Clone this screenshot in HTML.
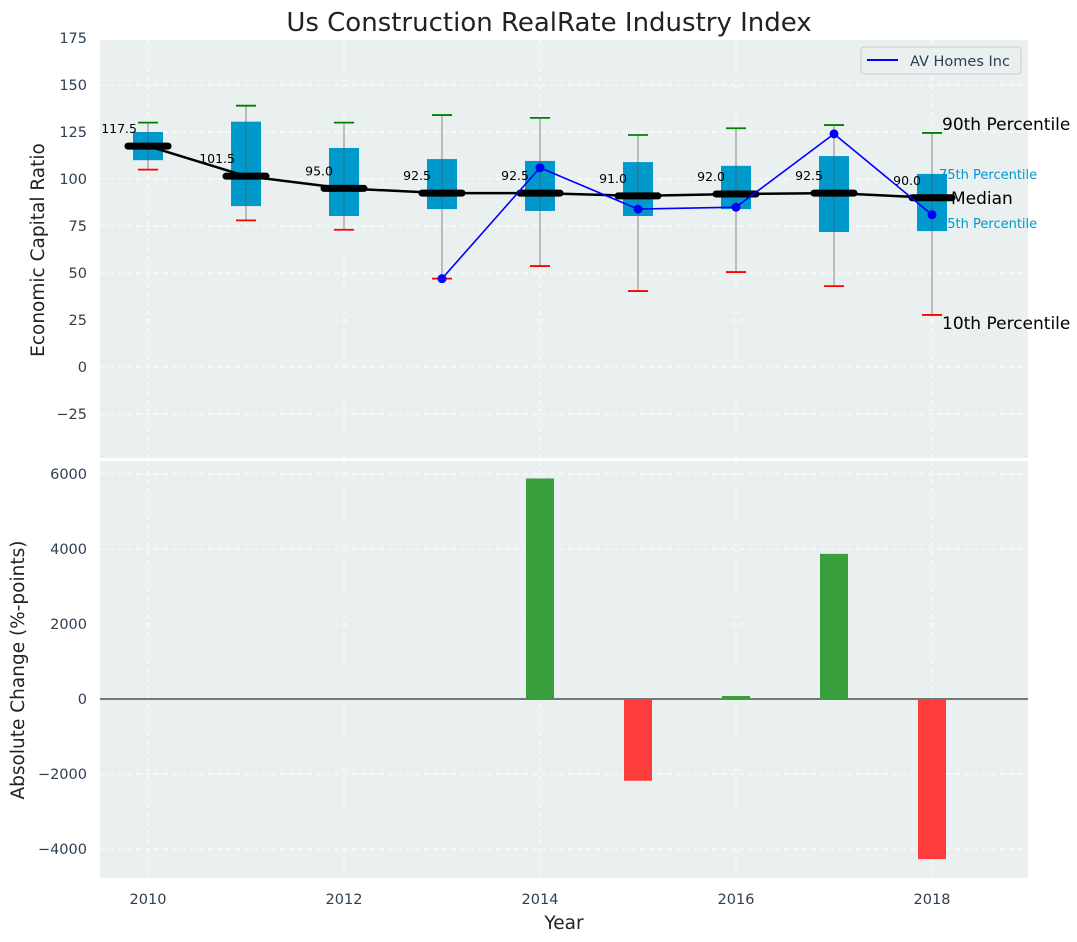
<!DOCTYPE html>
<html><head><meta charset="utf-8"><style>
body{margin:0;background:#fff;}
svg{display:block;font-family:"DejaVu Sans","Liberation Sans",sans-serif;}
</style></head><body>
<svg id="chart" width="1077" height="942"></svg>
<script>
const years=[2010,2011,2012,2013,2014,2015,2016,2017,2018];
const p10=[105,78,73,47,53.7,40.4,50.5,43,27.7];
const p25=[110,85.6,80.3,84,83,80.3,84,71.8,72.3];
const med=[117.5,101.5,95,92.5,92.5,91,92,92.5,90];
const p75=[125,130.5,116.5,110.6,109.6,109,107,112.2,102.7];
const p90=[130,139,130,134,132.5,123.4,127,128.7,124.5];
const avYears=[2013,2014,2015,2016,2017,2018];
const avVals=[47,106,84,85,124,81];
const chgYears=[2010,2011,2012,2013,2014,2015,2016,2017,2018];
const chgVals=[0,0,0,0,5880,-2180,80,3870,-4270];
const topTicks=[-25,0,25,50,75,100,125,150,175];
const botTicks=[-4000,-2000,0,2000,4000,6000];
const xTicks=[2010,2012,2014,2016,2018];

const NS="http://www.w3.org/2000/svg";
const svg=document.getElementById('chart');
function mk(tag,attrs,parent,text){const e=document.createElementNS(NS,tag);for(const k in attrs)e.setAttribute(k,attrs[k]);if(text!==undefined)e.textContent=text;(parent||svg).appendChild(e);return e;}
const L=100,R=1028,T1=40,B1=458,T2=461,B2=878;
const x=v=>148+(v-2010)*98;
const y1=v=>367-1.88*v;
const y2=v=>699-0.0375*v;
const tc="#2e3f51";
const TF=14.5;

let e;
e=mk('rect',{x:L,y:T1,width:R-L,height:B1-T1,fill:'#eaeff0'});

e=mk('rect',{x:L,y:T2,width:R-L,height:B2-T2,fill:'#eaeff0'});

topTicks.forEach(t=>{mk('line',{x1:L,x2:R,y1:y1(t),y2:y1(t),stroke:'#fff','stroke-dasharray':'5,4','stroke-width':1});
 e=mk('text',{x:L-13,y:y1(t)+5,'text-anchor':'end','font-size':TF,fill:tc},null,t<0?'\u2212'+(-t):t);
 });
botTicks.forEach(t=>{mk('line',{x1:L,x2:R,y1:y2(t),y2:y2(t),stroke:'#fff','stroke-dasharray':'5,4','stroke-width':1});
 e=mk('text',{x:L-13,y:y2(t)+5,'text-anchor':'end','font-size':TF,fill:tc},null,t<0?'\u2212'+(-t):t);
 });
xTicks.forEach(t=>{mk('line',{x1:x(t),x2:x(t),y1:T1,y2:B1,stroke:'#fff','stroke-dasharray':'5,4'});
 mk('line',{x1:x(t),x2:x(t),y1:T2,y2:B2,stroke:'#fff','stroke-dasharray':'5,4'});
 e=mk('text',{x:x(t),y:904,'text-anchor':'middle','font-size':TF,fill:tc},null,t);
 });

const lx=x(2018);
e=mk('text',{x:lx+10,y:y1(p90[8])-3,'font-size':17,fill:'#000'},null,'90th Percentile');
e=mk('text',{x:lx+7,y:y1(p75[8])+5,'font-size':13,fill:'#0099cc'},null,'75th Percentile');
e=mk('text',{x:lx+7,y:y1(p25[8])-3,'font-size':13,fill:'#0099cc'},null,'25th Percentile');
e=mk('text',{x:lx+10,y:y1(p10[8])+14,'font-size':17,fill:'#000'},null,'10th Percentile');

years.forEach((yr,i)=>{const cx=x(yr);
 e=mk('line',{x1:cx,x2:cx,y1:y1(p90[i]),y2:y1(p10[i]),stroke:'#888','stroke-width':1});
 
 e=mk('rect',{x:cx-15,y:y1(p75[i]),width:30,height:y1(p25[i])-y1(p75[i]),fill:'#0099cc'});
 
 mk('line',{x1:cx,x2:cx,y1:y1(p75[i]),y2:y1(p25[i]),stroke:'#555','stroke-width':1,opacity:0.6});
 e=mk('line',{x1:cx-10,x2:cx+10,y1:y1(p90[i]),y2:y1(p90[i]),stroke:'green','stroke-width':1.8});
 
 e=mk('line',{x1:cx-10,x2:cx+10,y1:y1(p10[i]),y2:y1(p10[i]),stroke:'red','stroke-width':1.8});
 
});
e=mk('polyline',{points:years.map((yr,i)=>x(yr)+','+y1(med[i])).join(' '),fill:'none',stroke:'#000','stroke-width':2.5});

years.forEach((yr,i)=>{const cx=x(yr);
 e=mk('line',{x1:cx-20,x2:cx+20,y1:y1(med[i]),y2:y1(med[i]),stroke:'#000','stroke-width':7,'stroke-linecap':'round'});
 
 e=mk('text',{x:cx-11,y:y1(med[i])-13,'text-anchor':'end','font-size':12.5,fill:'#000'},null,med[i].toFixed(1));
 
});
e=mk('text',{x:lx+19,y:y1(med[8])+6,'font-size':17,fill:'#000'},null,'Median');

e=mk('polyline',{points:avYears.map((yr,i)=>x(yr)+','+y1(avVals[i])).join(' '),fill:'none',stroke:'#0000ff','stroke-width':1.6});

avYears.forEach((yr,i)=>{e=mk('circle',{cx:x(yr),cy:y1(avVals[i]),r:4.5,fill:'#0000ff'});
 });

const lg=mk('g',{});
mk('rect',{x:861,y:47,width:160,height:27,rx:3,fill:'#eaeff0',stroke:'#ccc'},lg);
mk('line',{x1:867,x2:898,y1:60,y2:60,stroke:'#0000ff','stroke-width':2},lg);
e=mk('text',{x:910,y:66,'font-size':14.5,fill:tc},lg,'AV Homes Inc');

e=mk('line',{x1:L,x2:R,y1:y2(0),y2:y2(0),stroke:'#000','stroke-width':1});

chgYears.forEach((yr,i)=>{const v=chgVals[i];if(v===0)return;
 e=mk('rect',{x:x(yr)-14,y:Math.min(y2(0),y2(v)),width:28,height:Math.abs(y2(v)-y2(0)),fill:v>0?'#3a9e3d':'#ff3c3c'});
 });

e=mk('text',{x:549,y:31,'text-anchor':'middle','font-size':26,fill:'#222'},null,'Us Construction RealRate Industry Index');

e=mk('text',{x:564,y:929,'text-anchor':'middle','font-size':18.5,fill:'#222'},null,'Year');

e=mk('text',{x:0,y:0,'text-anchor':'middle','font-size':18.5,fill:'#222',transform:'translate(44,250) rotate(-90)'},null,'Economic Capital Ratio');

e=mk('text',{x:0,y:0,'text-anchor':'middle','font-size':18.5,fill:'#222',transform:'translate(24,670) rotate(-90)'},null,'Absolute Change (%-points)');

</script>
</body></html>
